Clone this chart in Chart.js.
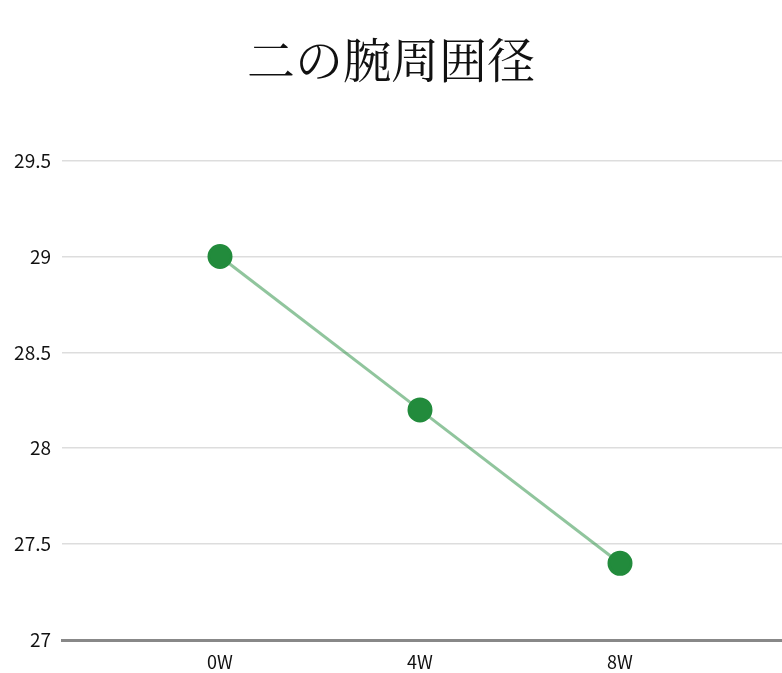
<!DOCTYPE html>
<html lang="ja">
<head>
    <meta charset="UTF-8">
    <title>二の腕周囲径</title>
    <script src="https://cdn.jsdelivr.net/npm/chart.js"></script>
    <style>
        html, body { margin: 0; padding: 0; background: #fff; overflow: hidden; }
    </style>
</head>
<body>
    <canvas id="armChart" width="782" height="673"></canvas>
    <script>
        // データ
        const weeks = [0, 4, 8];
        const weekLabels = ['0W', '4W', '8W'];
        const armValues = [29, 28.2, 27.4];
        const yTicks = [27, 27.5, 28, 28.5, 29, 29.5];

        const points = weeks.map((w, i) => ({ x: w, y: armValues[i] }));

        new Chart(document.getElementById('armChart'), {
            type: 'line',
            data: {
                datasets: [{
                    label: '二の腕周囲径',
                    data: points,
                    borderColor: 'rgba(34, 139, 60, 0.5)',
                    borderWidth: 3,
                    backgroundColor: '#228b3c',
                    pointBackgroundColor: '#228b3c',
                    pointBorderColor: '#228b3c',
                    pointRadius: 11,
                    tension: 0
                }]
            },
            options: {
                responsive: false,
                animation: false,
                devicePixelRatio: 1,
                layout: { autoPadding: false, padding: { top: 31, right: 0, bottom: 0, left: 0 } },
                plugins: {
                    legend: { display: false },
                    tooltip: { enabled: false },
                    title: {
                        display: true,
                        text: '二の腕周囲径',
                        color: '#111',
                        font: { family: "'Noto Serif CJK JP', 'IPAMincho', serif", size: 48, weight: 'normal' },
                        padding: { top: 0, bottom: 72 }
                    }
                },
                scales: {
                    x: {
                        type: 'linear',
                        min: -3.16,
                        max: 11.24,
                        afterFit: (scale) => {
                            scale.height = 33;
                            scale.paddingLeft = 0;
                            scale.paddingRight = 0;
                        },
                        afterBuildTicks: (scale) => {
                            scale.ticks = weeks.map(v => ({ value: v }));
                        },
                        ticks: {
                            color: '#111',
                            font: { family: "'Noto Sans CJK JP', 'Noto Sans', sans-serif", size: 18 },
                            padding: 11,
                            maxRotation: 0,
                            callback: (v) => weekLabels[weeks.indexOf(v)]
                        },
                        grid: { display: false, drawTicks: false },
                        border: { display: true, color: '#888', width: 3 }
                    },
                    y: {
                        min: 27,
                        max: 29.5,
                        afterFit: (scale) => { scale.width = 62; },
                        afterBuildTicks: (scale) => {
                            scale.ticks = yTicks.map(v => ({ value: v }));
                        },
                        ticks: {
                            color: '#111',
                            font: { family: "'Noto Sans CJK JP', 'Noto Sans', sans-serif", size: 19 },
                            padding: 11,
                            callback: (v) => String(v)
                        },
                        grid: { color: '#dddddd', lineWidth: 1.5, drawTicks: false },
                        border: { display: false }
                    }
                }
            }
        });
    </script>
</body>
</html>
